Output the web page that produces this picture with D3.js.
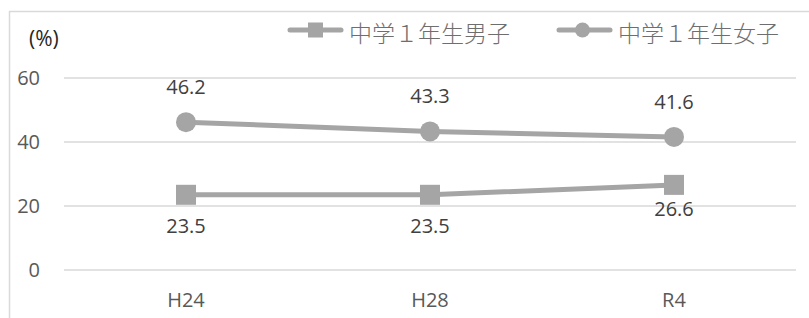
<!DOCTYPE html>
<html>
<head>
<meta charset="utf-8">
<script src="https://cdn.jsdelivr.net/npm/d3@7"></script>
<style>
  body { margin: 0; background: #fff; }
  text { font-family: "Open Sans", "Noto Sans CJK JP", sans-serif; }
</style>
</head>
<body>
<div id="chart"></div>
<script>
const categories = ["H24", "H28", "R4"];
const boys = [23.5, 23.5, 26.6];
const girls = [46.2, 43.3, 41.6];
const yTicks = [0, 20, 40, 60];
const seriesNames = ["中学１年生男子", "中学１年生女子"];

const width = 809, height = 318;
const lineColor = "#a5a5a5";
const textColor = "#595959";

const svg = d3.select("#chart").append("svg")
  .attr("width", width)
  .attr("height", height);

// outer frame
svg.append("rect")
  .attr("x", 9.5).attr("y", 11.5)
  .attr("width", 820).attr("height", 330)
  .attr("fill", "none")
  .attr("stroke", "#d9d9d9")
  .attr("stroke-width", 1.5);

const x = d3.scaleBand().domain(categories).range([64, 796]);
const y = d3.scaleLinear().domain([0, 60]).range([270, 78]);
const cx = d => x(d) + x.bandwidth() / 2;

// gridlines
svg.append("g").selectAll("line").data(yTicks).enter().append("line")
  .attr("x1", 64).attr("x2", 796)
  .attr("y1", d => y(d)).attr("y2", d => y(d))
  .attr("stroke", "#d9d9d9").attr("stroke-width", 1.5);

// y axis labels
svg.append("g").selectAll("text").data(yTicks).enter().append("text")
  .attr("x", 40).attr("y", d => y(d) + 7)
  .attr("text-anchor", "end")
  .attr("font-size", 20)
  .attr("fill", textColor)
  .text(d => d);

// x axis labels
svg.append("g").selectAll("text").data(categories).enter().append("text")
  .attr("x", d => cx(d)).attr("y", 307)
  .attr("text-anchor", "middle")
  .attr("font-size", 20)
  .attr("fill", textColor)
  .text(d => d);

svg.append("text")
  .attr("x", 29).attr("y", 46)
  .attr("font-size", 21)
  .attr("fill", "#262626")
  .text("(%)");

const line = d3.line().x((d, i) => cx(categories[i])).y(d => y(d));

// boys series
svg.append("path").datum(boys)
  .attr("d", line)
  .attr("fill", "none")
  .attr("stroke", lineColor)
  .attr("stroke-width", 5);
svg.append("g").selectAll("rect").data(boys).enter().append("rect")
  .attr("x", (d, i) => cx(categories[i]) - 10)
  .attr("y", d => y(d) - 10)
  .attr("width", 20).attr("height", 20)
  .attr("fill", lineColor);
svg.append("g").selectAll("text").data(boys).enter().append("text")
  .attr("x", (d, i) => cx(categories[i]))
  .attr("y", (d, i) => i === 2 ? y(d) + 31 : y(d) + 38)
  .attr("text-anchor", "middle")
  .attr("font-size", 20)
  .attr("fill", "#404040")
  .text(d => d.toFixed(1));

// girls series
svg.append("path").datum(girls)
  .attr("d", line)
  .attr("fill", "none")
  .attr("stroke", lineColor)
  .attr("stroke-width", 5);
svg.append("g").selectAll("circle").data(girls).enter().append("circle")
  .attr("cx", (d, i) => cx(categories[i]))
  .attr("cy", d => y(d))
  .attr("r", 10)
  .attr("fill", lineColor);
svg.append("g").selectAll("text").data(girls).enter().append("text")
  .attr("x", (d, i) => cx(categories[i]))
  .attr("y", d => y(d) - 28)
  .attr("text-anchor", "middle")
  .attr("font-size", 20)
  .attr("fill", "#404040")
  .text(d => d.toFixed(1));

// legend
const legendX = [288, 557];
const legend = svg.append("g").selectAll("g").data(seriesNames).enter().append("g")
  .attr("transform", (d, i) => `translate(${legendX[i]},30)`);
legend.append("line")
  .attr("x1", 2).attr("x2", 53)
  .attr("stroke", lineColor).attr("stroke-width", 5)
  .attr("stroke-linecap", "round");
legend.each(function(d, i) {
  const g = d3.select(this);
  if (i === 0) {
    g.append("rect").attr("x", 20).attr("y", -7.5).attr("width", 15).attr("height", 15).attr("fill", lineColor);
  } else {
    g.append("circle").attr("cx", 25.5).attr("r", 7.5).attr("fill", lineColor);
  }
});
legend.append("text")
  .attr("x", 61).attr("y", 12)
  .attr("font-size", 23)
  .attr("fill", "#6e6e6e")
  .attr("font-family", "'Noto Sans CJK JP', sans-serif")
  .attr("font-weight", 300)
  .text(d => d);
</script>
</body>
</html>
